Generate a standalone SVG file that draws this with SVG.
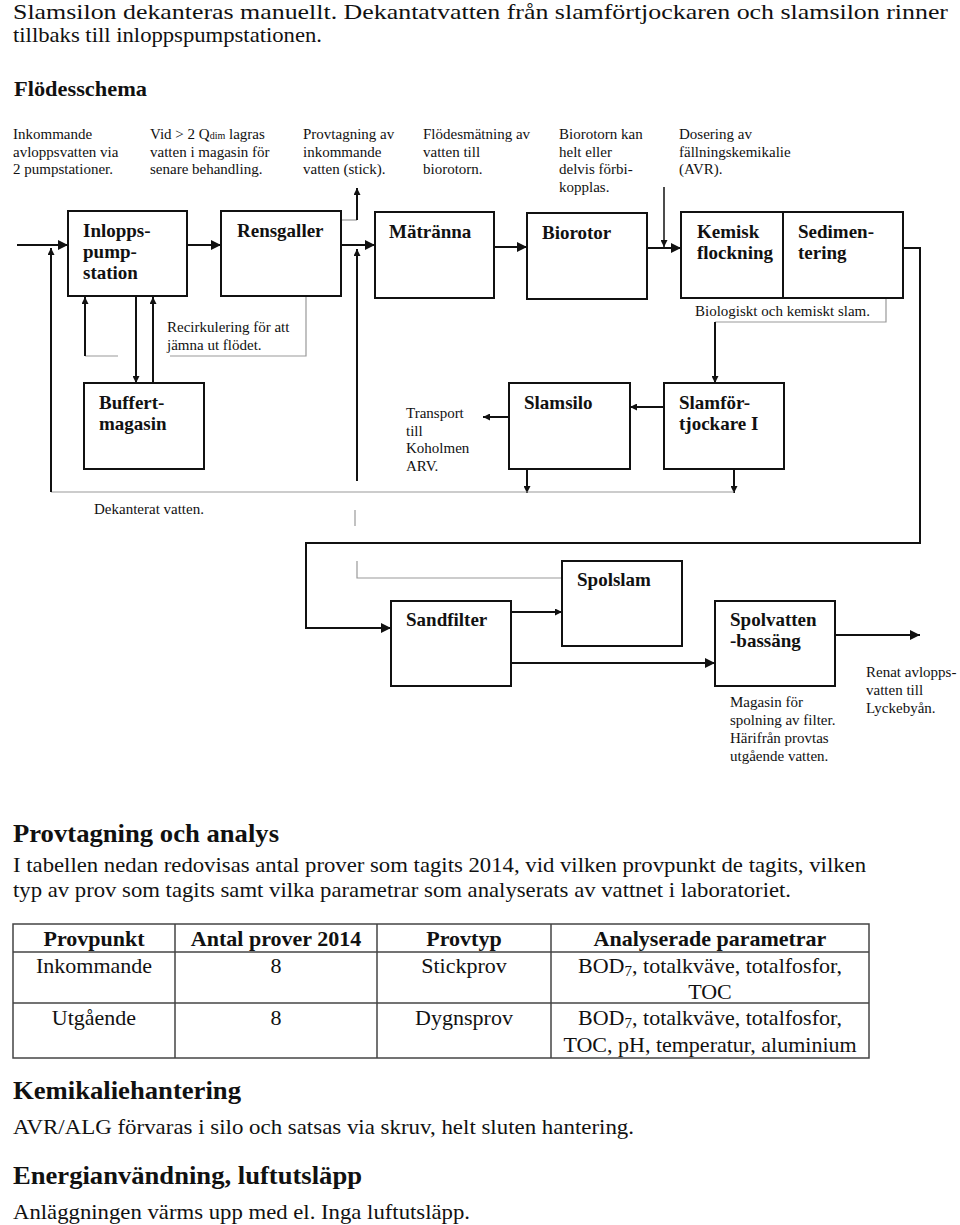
<svg xmlns="http://www.w3.org/2000/svg" width="960" height="1225" viewBox="0 0 960 1225">
<style>
text{font-family:"Liberation Serif","Times New Roman",serif;fill:#111}
.t{font-size:21px}
.h{font-size:22px;font-weight:bold}
.h2{font-size:25px;font-weight:bold}
.a{font-size:15px}
.b{font-size:19px;font-weight:bold}
.tb{font-size:22px}
.tbh{font-size:22px;font-weight:bold}
.box{fill:#fff;stroke:#111;stroke-width:2}
.c{fill:none;stroke:#111;stroke-width:2}
.cs{fill:none;stroke:#111;stroke-width:1.5}
.g{fill:none;stroke:#999;stroke-width:1.2}
.grid{fill:none;stroke:#444;stroke-width:1.5}
</style>
<defs>
<marker id="ab" viewBox="0 0 10 10" refX="10" refY="5" markerWidth="11" markerHeight="10" markerUnits="userSpaceOnUse" orient="auto"><path d="M0,0L10,5L0,10z" fill="#111"/></marker>
<marker id="as" viewBox="0 0 10 10" refX="10" refY="5" markerWidth="8" markerHeight="7" markerUnits="userSpaceOnUse" orient="auto"><path d="M0,0L10,5L0,10z" fill="#111"/></marker>
</defs>
<rect width="960" height="1225" fill="#fff"/>

<g id="intro">
<text class="t" x="13" y="19" textLength="935" lengthAdjust="spacingAndGlyphs">Slamsilon dekanteras manuellt. Dekantatvatten från slamförtjockaren och slamsilon rinner</text>
<text class="t" x="13" y="42" textLength="309" lengthAdjust="spacingAndGlyphs">tillbaks till inloppspumpstationen.</text>
<text class="h" x="14" y="96" textLength="133" lengthAdjust="spacingAndGlyphs">Flödesschema</text>
</g>

<g id="annotations" class="a">
<text class="a" x="13" y="139">Inkommande</text>
<text class="a" x="13" y="157">avloppsvatten via</text>
<text class="a" x="13" y="174">2 pumpstationer.</text>
<text class="a" x="150" y="139">Vid &gt; 2 Q<tspan font-size="10">dim</tspan> lagras</text>
<text class="a" x="150" y="157">vatten i magasin för</text>
<text class="a" x="150" y="174">senare behandling.</text>
<text class="a" x="303" y="139">Provtagning av</text>
<text class="a" x="303" y="157">inkommande</text>
<text class="a" x="303" y="174">vatten (stick).</text>
<text class="a" x="423" y="139">Flödesmätning av</text>
<text class="a" x="423" y="157">vatten till</text>
<text class="a" x="423" y="174">biorotorn.</text>
<text class="a" x="559" y="139">Biorotorn kan</text>
<text class="a" x="559" y="157">helt eller</text>
<text class="a" x="559" y="174">delvis förbi-</text>
<text class="a" x="559" y="192">kopplas.</text>
<text class="a" x="679" y="139">Dosering av</text>
<text class="a" x="679" y="157">fällningskemikalie</text>
<text class="a" x="679" y="174">(AVR).</text>
<text class="a" x="167" y="332">Recirkulering för att</text>
<text class="a" x="167" y="350">jämna ut flödet.</text>
<text class="a" x="695" y="316">Biologiskt och kemiskt slam.</text>
<text class="a" x="406" y="418">Transport</text>
<text class="a" x="406" y="436">till</text>
<text class="a" x="406" y="453">Koholmen</text>
<text class="a" x="406" y="471">ARV.</text>
<text class="a" x="94" y="514">Dekanterat vatten.</text>
<text class="a" x="730" y="707">Magasin för</text>
<text class="a" x="730" y="725">spolning av filter.</text>
<text class="a" x="730" y="743">Härifrån provtas</text>
<text class="a" x="730" y="761">utgående vatten.</text>
<text class="a" x="866" y="677">Renat avlopps-</text>
<text class="a" x="866" y="695">vatten till</text>
<text class="a" x="866" y="713">Lyckebyån.</text>
</g>

<g id="connectors">
<line class="c" x1="17" y1="245" x2="68" y2="245" marker-end="url(#ab)"/>
<line class="c" x1="187" y1="245" x2="221" y2="245" marker-end="url(#ab)"/>
<line class="c" x1="341" y1="245" x2="375" y2="245" marker-end="url(#ab)"/>
<line class="c" x1="494" y1="247" x2="527" y2="247" marker-end="url(#ab)"/>
<line class="c" x1="647" y1="248" x2="681" y2="248" marker-end="url(#ab)"/>
<polyline class="g" points="341,220 357,220"/>
<line class="c" x1="357" y1="220" x2="357" y2="188" marker-end="url(#as)"/>
<line class="cs" x1="664" y1="187" x2="664" y2="247" marker-end="url(#as)"/>
<polyline class="c" points="903,248 920,248 920,543 306,543 306,628 391,628" marker-end="url(#ab)"/>
<polyline class="g" points="886,298 886,322 715,322"/>
<line class="c" x1="715" y1="322" x2="715" y2="383" marker-end="url(#as)"/>
<line class="c" x1="664" y1="407" x2="630" y2="407" marker-end="url(#as)"/>
<line class="c" x1="509" y1="417" x2="483" y2="417" marker-end="url(#as)"/>
<line class="c" x1="527" y1="469" x2="527" y2="493" marker-end="url(#as)"/>
<line class="c" x1="734" y1="469" x2="734" y2="493" marker-end="url(#as)"/>
<polyline class="g" points="734,492 51,492"/>
<line class="c" x1="51" y1="492" x2="51" y2="248" marker-end="url(#as)"/>
<line class="c" x1="136" y1="296" x2="136" y2="383" marker-end="url(#as)"/>
<line class="c" x1="153" y1="383" x2="153" y2="297" marker-end="url(#as)"/>
<polyline class="g" points="306,297 306,356 170,356"/>
<polyline class="g" points="118,356 85,356"/>
<line class="c" x1="85" y1="356" x2="85" y2="297" marker-end="url(#as)"/>
<polyline class="g" points="562,578 357,578 357,561"/>
<line class="g" x1="355" y1="510" x2="355" y2="526"/>
<line class="c" x1="357" y1="481" x2="357" y2="249" marker-end="url(#as)"/>
<line class="c" x1="511" y1="612" x2="562" y2="612" marker-end="url(#as)"/>
<line class="c" x1="511" y1="663" x2="715" y2="663" marker-end="url(#ab)"/>
<line class="c" x1="835" y1="635" x2="920" y2="635" marker-end="url(#ab)"/>
</g>

<g id="inloppspumpstation"><rect class="box" x="68" y="211" width="119" height="85"/>
<text class="b" x="83" y="237">Inlopps-</text><text class="b" x="83" y="258">pump-</text><text class="b" x="83" y="279">station</text></g>
<g id="rensgaller"><rect class="box" x="221" y="211" width="120" height="85"/>
<text class="b" x="237" y="237">Rensgaller</text></g>
<g id="matranna"><rect class="box" x="375" y="212" width="119" height="86"/>
<text class="b" x="389" y="238">Mätränna</text></g>
<g id="biorotor"><rect class="box" x="527" y="213" width="120" height="86"/>
<text class="b" x="542" y="239">Biorotor</text></g>
<g id="kemisk-sedimentering"><rect class="box" x="681" y="212" width="222" height="86"/>
<line class="box" x1="783" y1="212" x2="783" y2="298"/>
<text class="b" x="697" y="238">Kemisk</text><text class="b" x="697" y="259">flockning</text>
<text class="b" x="798" y="238">Sedimen-</text><text class="b" x="798" y="259">tering</text></g>
<g id="buffertmagasin"><rect class="box" x="84" y="383" width="120" height="86"/>
<text class="b" x="99" y="409">Buffert-</text><text class="b" x="99" y="430">magasin</text></g>
<g id="slamsilo"><rect class="box" x="509" y="383" width="121" height="86"/>
<text class="b" x="524" y="409">Slamsilo</text></g>
<g id="slamfortjockare"><rect class="box" x="664" y="383" width="120" height="86"/>
<text class="b" x="679" y="409">Slamför-</text><text class="b" x="679" y="430">tjockare I</text></g>
<g id="sandfilter"><rect class="box" x="391" y="601" width="120" height="85"/>
<text class="b" x="406" y="626">Sandfilter</text></g>
<g id="spolslam"><rect class="box" x="562" y="561" width="120" height="85"/>
<text class="b" x="577" y="586">Spolslam</text></g>
<g id="spolvattenbassang"><rect class="box" x="715" y="601" width="120" height="85"/>
<text class="b" x="730" y="626">Spolvatten</text><text class="b" x="730" y="647">-bassäng</text></g>

<g id="provtagning">
<text class="h2" x="13" y="842" textLength="266" lengthAdjust="spacingAndGlyphs">Provtagning och analys</text>
<text class="t" x="13" y="872" textLength="853" lengthAdjust="spacingAndGlyphs">I tabellen nedan redovisas antal prover som tagits 2014, vid vilken provpunkt de tagits, vilken</text>
<text class="t" x="13" y="897" textLength="778" lengthAdjust="spacingAndGlyphs">typ av prov som tagits samt vilka parametrar som analyserats av vattnet i laboratoriet.</text>
</g>

<g id="table">
<rect class="grid" x="13" y="924" width="856" height="134"/>
<line class="grid" x1="13" y1="952" x2="869" y2="952"/>
<line class="grid" x1="13" y1="1003" x2="869" y2="1003"/>
<line class="grid" x1="175" y1="924" x2="175" y2="1058"/>
<line class="grid" x1="377" y1="924" x2="377" y2="1058"/>
<line class="grid" x1="551" y1="924" x2="551" y2="1058"/>
<g text-anchor="middle">
<text class="tbh" x="94" y="946">Provpunkt</text>
<text class="tbh" x="276" y="946">Antal prover 2014</text>
<text class="tbh" x="464" y="946">Provtyp</text>
<text class="tbh" x="710" y="946">Analyserade parametrar</text>
<text class="tb" x="94" y="973">Inkommande</text>
<text class="tb" x="276" y="973">8</text>
<text class="tb" x="464" y="973">Stickprov</text>
<text class="tb" x="710" y="973">BOD<tspan font-size="15" dy="3">7</tspan><tspan dy="-3">, totalkväve, totalfosfor,</tspan></text>
<text class="tb" x="710" y="999">TOC</text>
<text class="tb" x="94" y="1025">Utgående</text>
<text class="tb" x="276" y="1025">8</text>
<text class="tb" x="464" y="1025">Dygnsprov</text>
<text class="tb" x="710" y="1025">BOD<tspan font-size="15" dy="3">7</tspan><tspan dy="-3">, totalkväve, totalfosfor,</tspan></text>
<text class="tb" x="710" y="1052">TOC, pH, temperatur, aluminium</text>
</g>
</g>

<g id="kemikalier">
<text class="h2" x="13" y="1099" textLength="228" lengthAdjust="spacingAndGlyphs">Kemikaliehantering</text>
<text class="t" x="13" y="1134" textLength="621" lengthAdjust="spacingAndGlyphs">AVR/ALG förvaras i silo och satsas via skruv, helt sluten hantering.</text>
<text class="h2" x="13" y="1184" textLength="349" lengthAdjust="spacingAndGlyphs">Energianvändning, luftutsläpp</text>
<text class="t" x="13" y="1219" textLength="457" lengthAdjust="spacingAndGlyphs">Anläggningen värms upp med el. Inga luftutsläpp.</text>
</g>
</svg>
